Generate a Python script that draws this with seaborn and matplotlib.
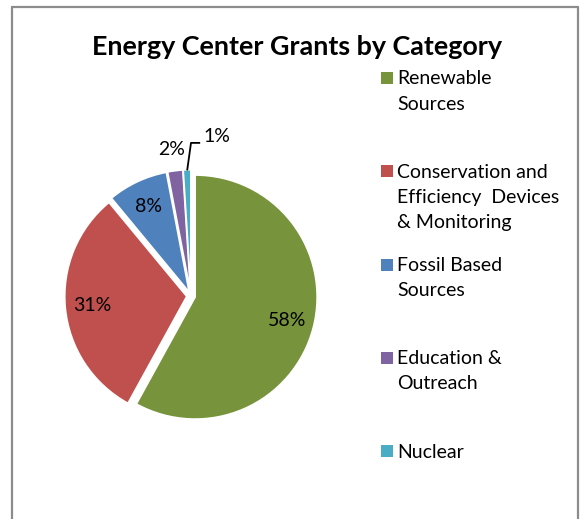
import numpy as np
import matplotlib
matplotlib.use("Agg")
import matplotlib.pyplot as plt
from matplotlib.lines import Line2D
from matplotlib.patches import Rectangle
import seaborn as sns

categories = ["Renewable\nSources",
              "Conservation and\nEfficiency  Devices\n& Monitoring",
              "Fossil Based\nSources",
              "Education &\nOutreach",
              "Nuclear"]
values = [58, 31, 8, 2, 1]
colors = ["#77933C", "#C0504D", "#4F81BD", "#8064A2", "#4BACC6"]
title = "Energy Center Grants by Category"

sns.set_theme(style="white")
FONT = "Lato"
plt.rcParams["font.family"] = [FONT, "DejaVu Sans"]

W, H = 582, 519
fig = plt.figure(figsize=(W / 100, H / 100), dpi=100)
fig.patch.set_facecolor("white")

# pie axes: centre at (191, 296) px, radius 122 px
cx, cy, R = 191, 296, 122
half = 150
ax = fig.add_axes([(cx - half) / W, 1 - (cy + half) / H, 2 * half / W, 2 * half / H])

def fmt(p):
    return f"{p:.0f}%"

wedges, texts, autotexts = ax.pie(
    values, colors=colors, startangle=90, counterclock=False,
    explode=[0.035] * len(values), autopct=fmt, pctdistance=0.78,
    wedgeprops=dict(edgecolor="white", linewidth=1.2),
    textprops=dict(fontsize=14, color="black"))
lim = half / R
ax.set_xlim(-lim, lim)
ax.set_ylim(-lim, lim)
ax.axis("off")

# move the two small slice labels outside
for w, t, v in zip(wedges, autotexts, values):
    mid = np.deg2rad((w.theta1 + w.theta2) / 2)
    if v == 2:
        t.set_position((1.25 * np.cos(mid), 1.21 * np.sin(mid)))
    elif v == 1:
        x0, y0 = 1.0 * np.cos(mid), 1.03 * np.sin(mid)
        xe, ye = 0.0, 1.255
        xr = 0.075
        ax.plot([x0, xe, xr], [y0, ye, ye], color="black", lw=1.3,
                clip_on=False, solid_capstyle="butt")
        t.set_position((xr + 0.03, 1.31))
        t.set_ha("left")

fig.text(297 / W, 1 - 47 / H, title, ha="center", va="center",
         fontsize=19.4, fontweight="bold", color="black")

# legend
lx, ly0, step = 380.5, 78, 93.25
for i, (lab, col) in enumerate(zip(categories, colors)):
    y = ly0 + i * step
    fig.patches.append(Rectangle((lx / W, 1 - (y + 6) / H), 12 / W, 12 / H,
                                 transform=fig.transFigure, facecolor=col,
                                 edgecolor="none", figure=fig))
    fig.text(397 / W, 1 - (y - 7.5) / H, lab, ha="left", va="top",
             fontsize=14, color="black", linespacing=1.58)

# chart frame
frame_col = "#8c8c8c"
fig.add_artist(Line2D([12 / W, 12 / W], [0, 1 - 7 / H], color=frame_col, lw=1.6,
                      transform=fig.transFigure))
fig.add_artist(Line2D([12 / W, 578 / W], [1 - 7 / H, 1 - 7 / H], color=frame_col,
                      lw=1.6, transform=fig.transFigure))
fig.add_artist(Line2D([578 / W, 578 / W], [0, 1 - 7 / H], color=frame_col, lw=1.6,
                      transform=fig.transFigure))

fig.savefig("out.png", dpi=100, facecolor="white")
